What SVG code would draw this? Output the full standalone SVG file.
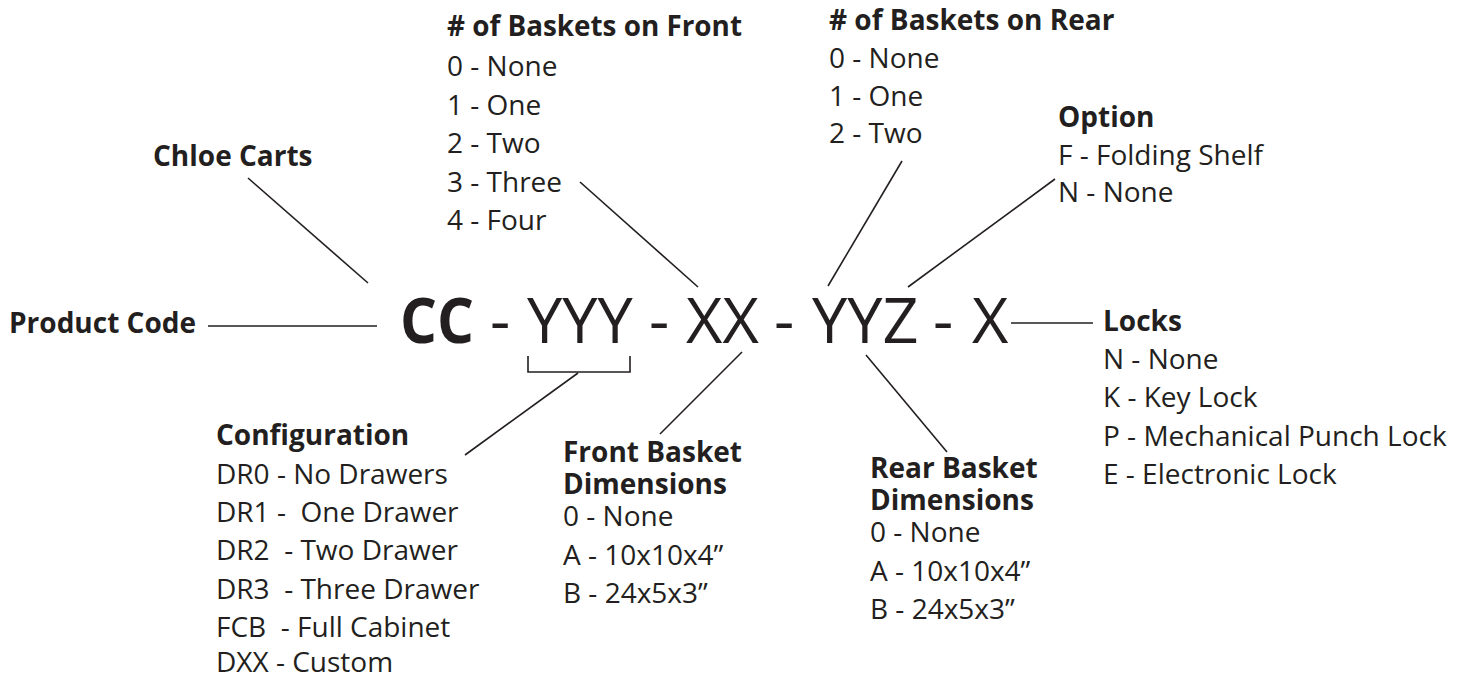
<svg xmlns="http://www.w3.org/2000/svg" width="1476" height="679" viewBox="0 0 1476 679">
<style>
text{font-family:"Open Sans","Liberation Sans",sans-serif;fill:#231f20;white-space:pre}
.b{font-weight:700;font-size:28px}
.r{font-weight:400;font-size:28px}
.code{font-weight:400;font-size:63px}
.codeb{font-weight:700;font-size:63px}
.ln{stroke:#231f20;stroke-width:1.6;fill:none}
</style>
<rect width="1476" height="679" fill="#ffffff"/>
<g id="code">
<text class="codeb" x="400" y="343" textLength="74" lengthAdjust="spacingAndGlyphs">CC</text>
<text class="code" x="490" y="343">-</text>
<text class="code" x="527" y="343">YYY</text>
<text class="code" x="649" y="343">-</text>
<text class="code" x="686" y="343">XX</text>
<text class="code" x="774" y="343">-</text>
<text class="code" x="812" y="343">YYZ</text>
<text class="code" x="933" y="343">-</text>
<text class="code" x="972" y="343">X</text>
</g>
<g id="product-code"><text class="b" x="9" y="333">Product Code</text></g>
<g id="chloe-carts"><text class="b" x="153" y="166">Chloe Carts</text></g>
<g id="baskets-front">
<text class="b" x="447" y="36" textLength="295" lengthAdjust="spacingAndGlyphs"># of Baskets on Front</text>
<text class="r" x="447" y="76">0 - None</text>
<text class="r" x="447" y="114.5">1 - One</text>
<text class="r" x="447" y="153">2 - Two</text>
<text class="r" x="447" y="191.5">3 - Three</text>
<text class="r" x="447" y="230">4 - Four</text>
</g>
<g id="baskets-rear">
<text class="b" x="829" y="30"># of Baskets on Rear</text>
<text class="r" x="829" y="68">0 - None</text>
<text class="r" x="829" y="106">1 - One</text>
<text class="r" x="829" y="143">2 - Two</text>
</g>
<g id="option">
<text class="b" x="1058" y="127">Option</text>
<text class="r" x="1058" y="165">F - Folding Shelf</text>
<text class="r" x="1058" y="202">N - None</text>
</g>
<g id="locks">
<text class="b" x="1103" y="331">Locks</text>
<text class="r" x="1103" y="368.5">N - None</text>
<text class="r" x="1103" y="407">K - Key Lock</text>
<text class="r" x="1103" y="445.5">P - Mechanical Punch Lock</text>
<text class="r" x="1103" y="484">E - Electronic Lock</text>
</g>
<g id="configuration">
<text class="b" x="216" y="445">Configuration</text>
<text class="r" x="216" y="483.5">DR0 - No Drawers</text>
<text class="r" x="216" y="521.8">DR1 -  One Drawer</text>
<text class="r" x="216" y="560">DR2  - Two Drawer</text>
<text class="r" x="216" y="598.5">DR3  - Three Drawer</text>
<text class="r" x="216" y="636.8">FCB  - Full Cabinet</text>
<text class="r" x="216" y="672">DXX - Custom</text>
</g>
<g id="front-basket-dimensions">
<text class="b" x="563" y="462">Front Basket<tspan x="563" dy="32">Dimensions</tspan></text>
<text class="r" x="563" y="526">0 - None</text>
<text class="r" x="563" y="565">A - 10x10x4”</text>
<text class="r" x="563" y="603">B - 24x5x3”</text>
</g>
<g id="rear-basket-dimensions">
<text class="b" x="870" y="478">Rear Basket<tspan x="870" dy="32">Dimensions</tspan></text>
<text class="r" x="870" y="542">0 - None</text>
<text class="r" x="870" y="581">A - 10x10x4”</text>
<text class="r" x="870" y="619">B - 24x5x3”</text>
</g>
<g id="connectors">
<line class="ln" x1="208" y1="326" x2="377" y2="326"/>
<line class="ln" x1="248" y1="178" x2="368" y2="283"/>
<line class="ln" x1="580" y1="182" x2="698" y2="287"/>
<line class="ln" x1="902" y1="161" x2="828" y2="286"/>
<line class="ln" x1="1055" y1="179" x2="908" y2="287"/>
<line class="ln" x1="1011" y1="323" x2="1093" y2="323"/>
<path class="ln" d="M528,356 V372 H630 V356"/>
<line class="ln" x1="578" y1="373" x2="465" y2="455"/>
<line class="ln" x1="742" y1="352" x2="660" y2="434"/>
<line class="ln" x1="866" y1="355" x2="947" y2="452"/>
</g>
</svg>
